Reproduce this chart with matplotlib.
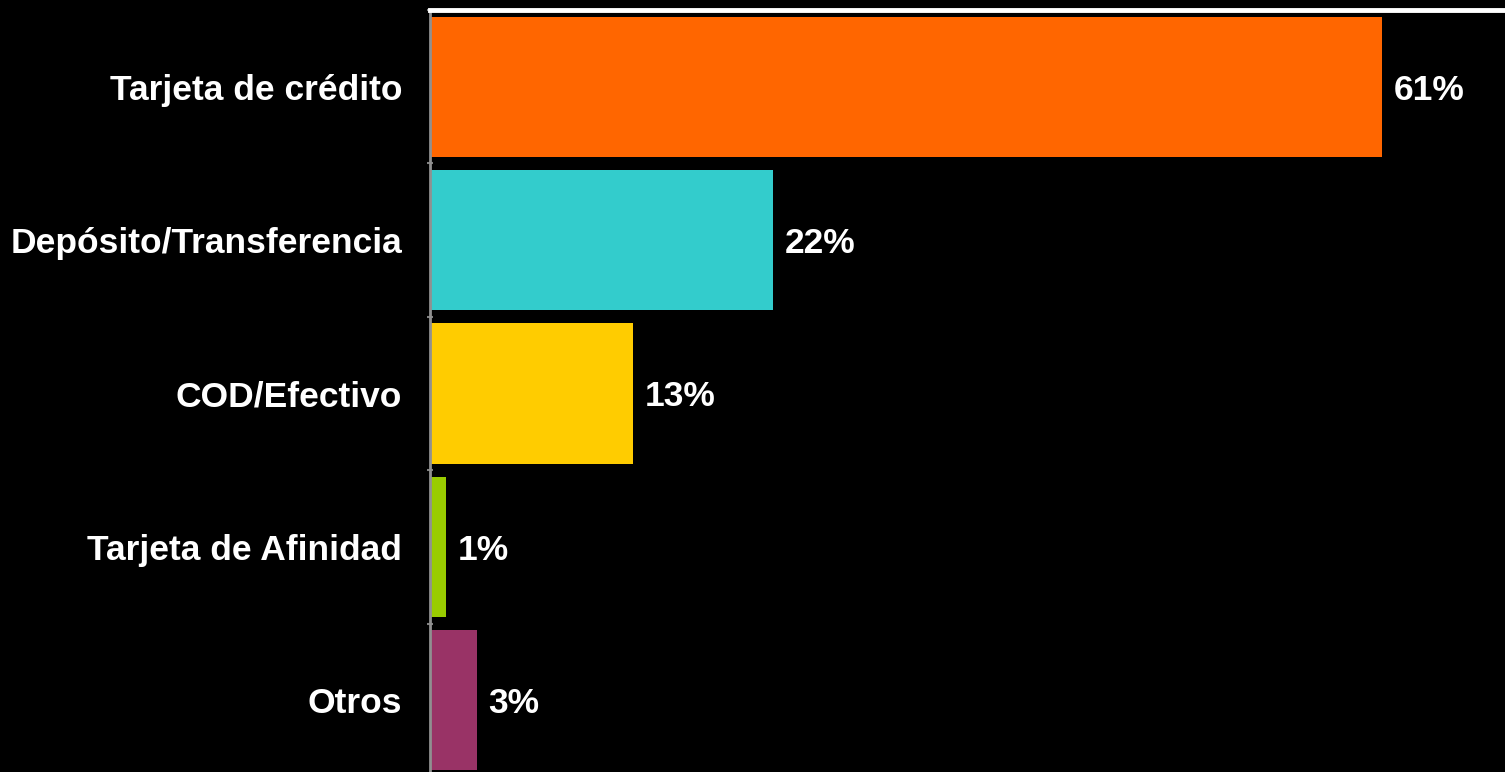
import matplotlib.pyplot as plt
import numpy as np

categories = ["Tarjeta de crédito", "Depósito/Transferencia", "COD/Efectivo",
              "Tarjeta de Afinidad", "Otros"]
values = [61, 22, 13, 1, 3]
colors = ["#FF6600", "#33CCCC", "#FFCC00", "#99CC00", "#993366"]

plt.rcParams['font.family'] = ['Liberation Sans', 'DejaVu Sans']

fig = plt.figure(figsize=(15.05, 7.72), dpi=100, facecolor="black")
ax = fig.add_axes([430 / 1505, -5 / 772, 1075 / 1505, 767 / 772])
ax.set_facecolor("black")

y = np.arange(len(categories))
ax.barh(y, values, height=0.915, color=colors)

ax.set_ylim(len(categories) - 0.5, -0.5)
ax.set_xlim(0, 1075 / 15.6)

ax.set_yticks(y)
ax.set_yticklabels(categories, color="white", fontsize=25.5, fontweight="bold")
ax.tick_params(axis="y", which="major", length=0, pad=20)
ax.set_yticks(np.arange(len(categories) + 1) - 0.5, minor=True)
ax.tick_params(axis="y", which="minor", length=5, width=1.5,
               color="#808080", direction="inout")
ax.set_xticks([])

for sp in ["right", "bottom"]:
    ax.spines[sp].set_visible(False)
ax.spines["left"].set_color("#909090")
ax.spines["left"].set_linewidth(2)
ax.spines["top"].set_color("white")
ax.spines["top"].set_linewidth(3.5)

for yi, v in zip(y, values):
    ax.text(v + 0.75, yi, f"{v}%", color="white", fontsize=25.5,
            fontweight="bold", va="center_baseline", ha="left")

fig.savefig("out.png", dpi=100, facecolor="black")
